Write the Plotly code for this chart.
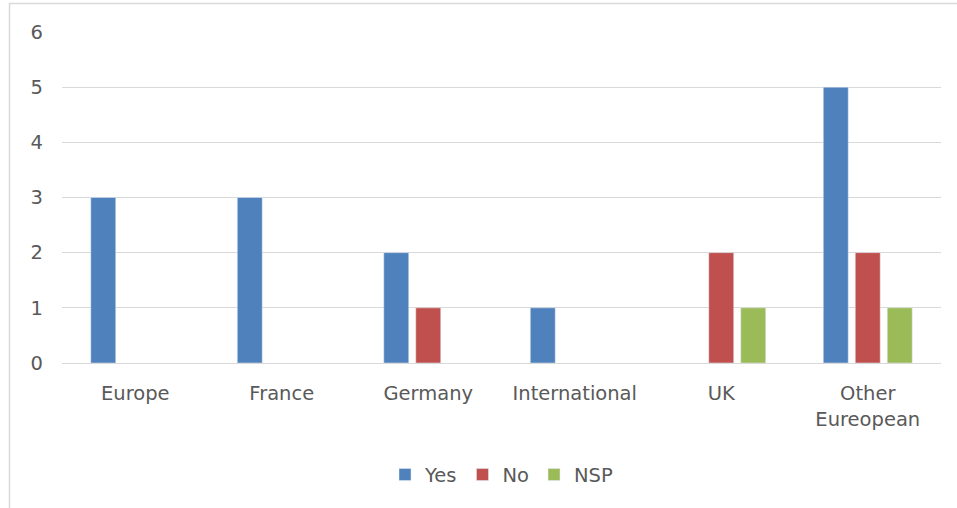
import plotly.graph_objects as go

categories = ["Europe", "France", "Germany", "International", "UK", "Other<br>Eureopean"]
yes_vals = [3, 3, 2, 1, 0, 5]
no_vals = [0, 0, 1, 0, 2, 2]
nsp_vals = [0, 0, 0, 0, 1, 1]
y_ticks = [0, 1, 2, 3, 4, 5, 6]


def nz(vals):
    return [v if v else None for v in vals]


FONT = "DejaVu Sans"
FS = 19.5
fig = go.Figure()
fig.add_trace(go.Bar(name="Yes", x=categories, y=nz(yes_vals), marker_color="#4F81BD"))
fig.add_trace(go.Bar(name="No", x=categories, y=nz(no_vals), marker_color="#C0504D"))
fig.add_trace(go.Bar(name="NSP", x=categories, y=nz(nsp_vals), marker_color="#9BBB59"))

fig.update_layout(
    width=957, height=508,
    margin=dict(l=62, r=16, t=32, b=145),
    paper_bgcolor="white", plot_bgcolor="white",
    barmode="group", bargap=0.345, bargroupgap=0.22,
    font=dict(family=FONT, size=FS, color="#595959"),
    showlegend=True,
    legend=dict(orientation="h", x=0.5, xanchor="center", y=-0.338, yanchor="middle",
                font=dict(size=FS, color="#595959"), itemwidth=30, traceorder="normal"),
    xaxis=dict(showgrid=False, showline=True, linecolor="#D9D9D9", linewidth=1,
               ticks="", ticklabelstandoff=13),
    yaxis=dict(range=[0, 6], tickvals=y_ticks, showgrid=True, gridcolor="#D9D9D9",
               gridwidth=1, zeroline=False, showline=False, ticks="", ticklabelstandoff=18),
    shapes=[dict(type="rect", xref="paper", yref="paper",
                 x0=(9.5 - 62) / 879, x1=1.2, y0=-0.6, y1=(363 - 3.5) / 331,
                 line=dict(color="#D9D9D9", width=1.5), fillcolor="rgba(0,0,0,0)", layer="below")],
)

fig.write_html("out.html", config={"displayModeBar": False},
               post_script="document.body.style.margin='0';")
